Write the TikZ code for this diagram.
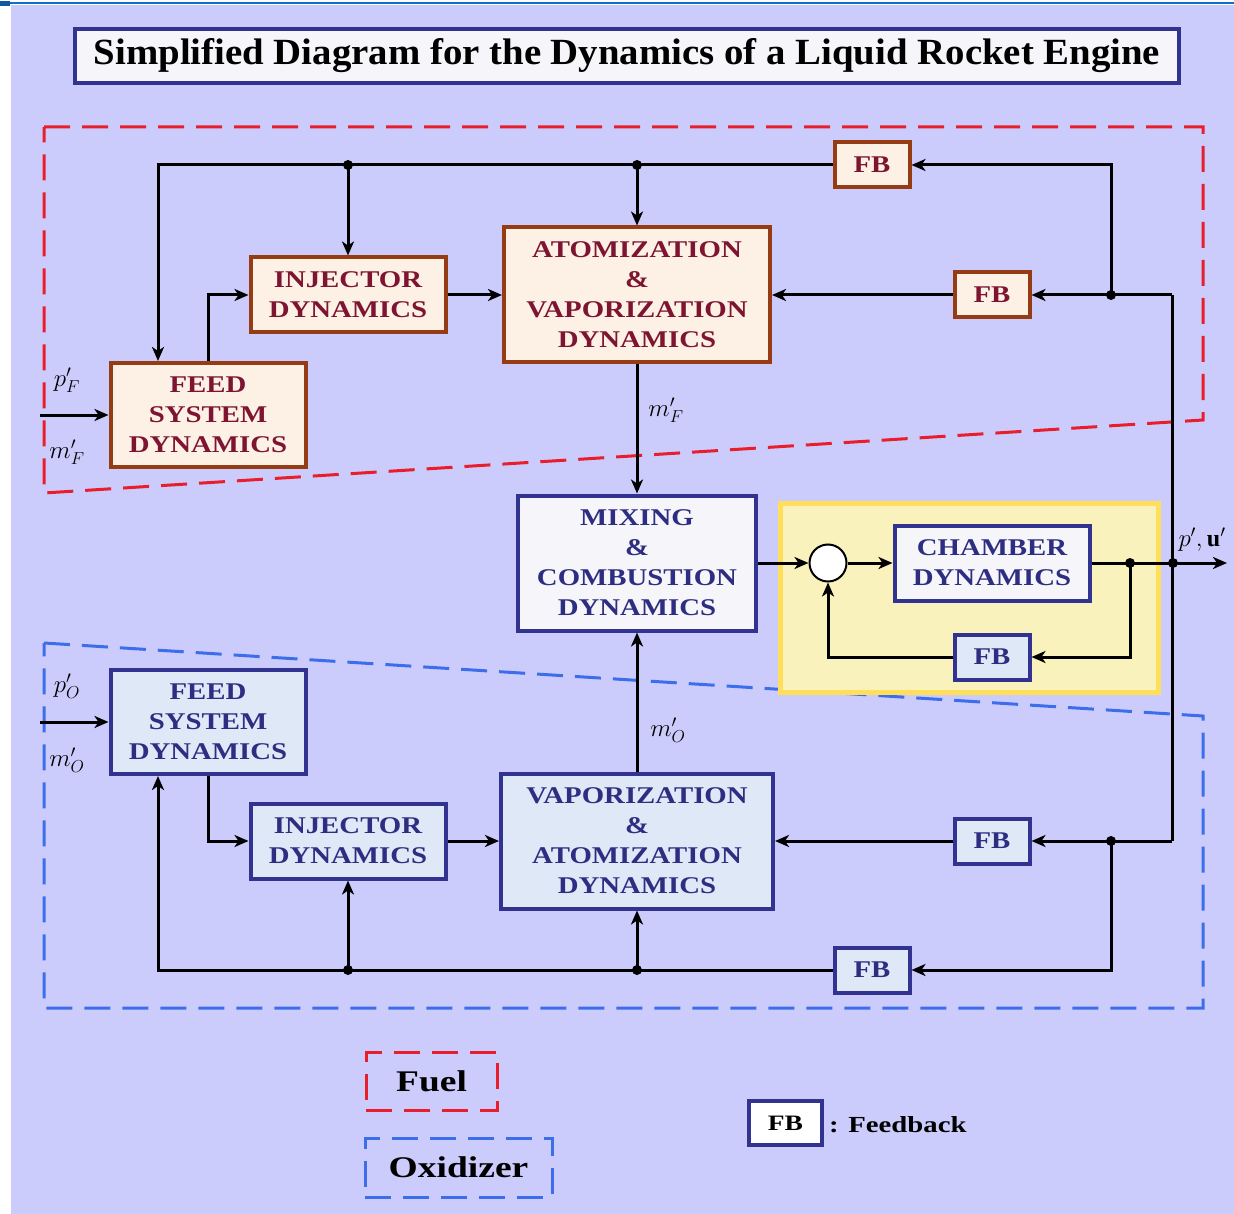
\documentclass[tikz,border=0pt]{standalone}
\usepackage{fontspec}
\setmainfont{Liberation Serif}
\newfontfamily\boxfont[FakeStretch=1.2]{Liberation Serif}
\newfontfamily\legfont[FakeStretch=1.25]{Liberation Serif}
\usetikzlibrary{arrows.meta}
\definecolor{bgc}{RGB}{204,204,252}
\definecolor{topblue}{RGB}{20,110,200}
\definecolor{fuelred}{RGB}{232,30,45}
\definecolor{oxblue}{RGB}{60,110,235}
\definecolor{fuelfill}{RGB}{253,240,228}
\definecolor{fueldraw}{RGB}{150,60,20}
\definecolor{fueltext}{RGB}{125,20,50}
\definecolor{oxfill}{RGB}{222,232,246}
\definecolor{oxdraw}{RGB}{50,50,145}
\definecolor{oxtext}{RGB}{45,45,130}
\definecolor{whitefill}{RGB}{245,245,250}
\definecolor{yelfill}{RGB}{250,242,188}
\definecolor{yeldraw}{RGB}{255,222,90}
\tikzset{
  x=1pt, y=-1pt,
  blockbase/.style={draw, line width=4pt, align=center, inner sep=0pt,
    font=\boxfont\bfseries\fontsize{24}{30}\selectfont},
  fuelbox/.style={blockbase, fill=fuelfill, draw=fueldraw, text=fueltext},
  oxbox/.style={blockbase, fill=oxfill, draw=oxdraw, text=oxtext},
  midbox/.style={blockbase, fill=whitefill, draw=oxdraw, text=oxtext},
  fbsize/.style={minimum width=75pt, minimum height=45pt},
  conn/.style={line width=3pt, black, -{Stealth[length=14pt,width=12pt,inset=4pt]}},
  plain/.style={line width=3pt, black},
  dot/.style={circle, fill=black, inner sep=0pt, minimum size=10pt},
  lbl/.style={font=\fontsize{24}{28}\selectfont, inner sep=0pt},
  fueldash/.style={draw=fuelred, line width=3pt, dash pattern=on 26pt off 12pt},
  oxdash/.style={draw=oxblue, line width=3pt, dash pattern=on 26pt off 12pt},
}
\begin{document}
\begin{tikzpicture}
% canvas
\fill[white] (0,0) rectangle (1234,1214);
\useasboundingbox (0,0) rectangle (1234,1214);
\fill[bgc] (11,5) rectangle (1234,1214);
\draw[topblue, line width=2.5pt] (0,3) -- (1234,3);
\fill[topblue!80!black] (0,1) rectangle (10,6);

% title
\node[draw=oxdraw, fill=whitefill, line width=4pt, minimum width=1104pt, minimum height=54pt, inner sep=0pt] (title) at (627,56)
  {\resizebox{1066pt}{26pt}{\bfseries Simplified Diagram for the Dynamics of a Liquid Rocket Engine}};

% regions
\path[fueldash] (44,127) -- (1203,127) -- (1203,420) -- (44,493) -- cycle;
\path[oxdash] (44,643) -- (1203,716) -- (1203,1008) -- (44,1008) -- cycle;
\draw[yeldraw, fill=yelfill, line width=5pt] (780,503) rectangle (1158,692);

% fuel blocks
\node[fuelbox, fbsize] (fbt) at (872,165) {FB};
\node[fuelbox, minimum width=195pt, minimum height=75pt] (finj) at (348,295) {INJECTOR\\DYNAMICS};
\node[fuelbox, minimum width=266pt, minimum height=135pt] (fatom) at (637,295) {ATOMIZATION\\\&\\VAPORIZATION\\DYNAMICS};
\node[fuelbox, fbsize] (fbm) at (992,295) {FB};
\node[fuelbox, minimum width=195pt, minimum height=104pt] (ffeed) at (208,415) {FEED\\SYSTEM\\DYNAMICS};

% middle blocks
\node[midbox, minimum width=238pt, minimum height=135pt] (mix) at (637,563) {MIXING\\\&\\COMBUSTION\\DYNAMICS};
\node[circle, draw=black, fill=white, line width=2pt, minimum size=37pt, inner sep=0pt] (sum) at (828,563) {};
\node[midbox, minimum width=195pt, minimum height=75pt] (cham) at (992,563) {CHAMBER\\DYNAMICS};
\node[oxbox, fbsize] (fbc) at (992,657) {FB};

% oxidizer blocks
\node[oxbox, minimum width=195pt, minimum height=104pt] (ofeed) at (208,722) {FEED\\SYSTEM\\DYNAMICS};
\node[oxbox, minimum width=195pt, minimum height=75pt] (oinj) at (348,841) {INJECTOR\\DYNAMICS};
\node[oxbox, minimum width=272pt, minimum height=135pt] (ovap) at (637,841) {VAPORIZATION\\\&\\ATOMIZATION\\DYNAMICS};
\node[oxbox, fbsize] (ofbm) at (992,841) {FB};
\node[oxbox, fbsize] (ofbb) at (872,970) {FB};

% coordinates
\coordinate (tl) at (158,165);
\coordinate (j1) at (348,165);
\coordinate (j2) at (637,165);
\coordinate (tr) at (1111,165);
\coordinate (jr) at (1111,295);
\coordinate (rr) at (1172,295);
\coordinate (rro) at (1172,841);
\coordinate (fin) at (40,415);
\coordinate (cj) at (1130,563);
\coordinate (oj) at (1173,563);
\coordinate (out) at (1227,563);
\coordinate (ojr) at (1111,841);
\coordinate (obr) at (1111,970);
\coordinate (obl) at (158,970);
\coordinate (oj1) at (348,970);
\coordinate (oj2) at (637,970);
\coordinate (oin) at (40,722);

% fuel connectors
\draw[conn] (fbt.west) -- (tl) -- (tl |- ffeed.north);
\draw[conn] (j1) -- (finj.north);
\draw[conn] (j2) -- (fatom.north);
\draw[conn] (jr) -- (tr) -- (fbt.east);
\draw[conn] (rr) -- (fbm.east);
\draw[conn] (fbm.west) -- (fatom.east);
\draw[conn] (ffeed.north) |- (finj.west);
\draw[conn] (finj.east) -- (fatom.west);
\draw[conn] (fatom.south) -- (mix.north);
\draw[conn] (fin) -- (ffeed.west);

% middle connectors
\draw[plain] (rr) -- (rro);
\draw[conn] (mix.east) -- (sum.west);
\draw[conn] (sum.east) -- (cham.west);
\draw[conn] (cham.east) -- (out);
\draw[conn] (cj) |- (fbc.east);
\draw[conn] (fbc.west) -| (sum.south);

% oxidizer connectors
\draw[conn] (rro) -- (ofbm.east);
\draw[conn] (ofbm.west) -- (ovap.east);
\draw[conn] (ojr) -- (obr) -- (ofbb.east);
\draw[conn] (ofbb.west) -- (obl) -- (obl |- ofeed.south);
\draw[conn] (oj1) -- (oinj.south);
\draw[conn] (oj2) -- (ovap.south);
\draw[conn] (ofeed.south) |- (oinj.west);
\draw[conn] (oinj.east) -- (ovap.west);
\draw[conn] (ovap.north) -- (mix.south);
\draw[conn] (oin) -- (ofeed.west);

% junction dots
\foreach \p in {j1,j2,jr,cj,oj,ojr,oj1,oj2} \node[dot] at (\p) {};

% labels
\node[lbl] (lpf) at (67,380) {$p'_F$};
\node[lbl] (lmf) at (67,452) {$m'_F$};
\node[lbl] (lmf2) at (666,410) {$m'_F$};
\node[lbl] (lpo) at (67,686) {$p'_O$};
\node[lbl] (lmo) at (67,760) {$m'_O$};
\node[lbl] (lmo2) at (668,730) {$m'_O$};
\node[lbl] (lpu) at (1202,540) {$p',\mathbf{u}'$};

% legend
\node[fueldash, minimum width=131pt, minimum height=58pt, inner sep=0pt, font=\legfont\bfseries\fontsize{30}{34}\selectfont] (legf) at (431.5,1081) {Fuel};
\node[oxdash, minimum width=187pt, minimum height=59pt, inner sep=0pt, font=\legfont\bfseries\fontsize{30}{34}\selectfont] (lego) at (458.5,1167.5) {Oxidizer};
\node[draw=oxdraw, fill=white, line width=4pt, minimum width=73pt, minimum height=44pt, inner sep=0pt, font=\legfont\bfseries\fontsize{22}{26}\selectfont] (legfb) at (785.5,1123) {FB};
\node[anchor=west, inner sep=0pt, font=\legfont\bfseries\fontsize{23}{26}\selectfont] (legtxt) at (829,1125) {: Feedback};
\end{tikzpicture}
\end{document}
